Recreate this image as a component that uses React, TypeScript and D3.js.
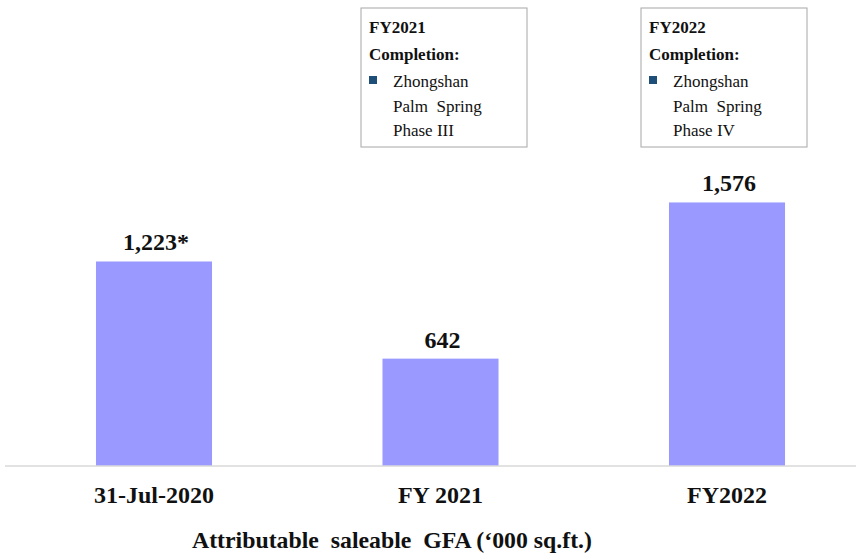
import React from "react";
import * as d3 from "d3";

const categories = ["31-Jul-2020", "FY 2021", "FY2022"];
const values = [1223, 642, 1576];
const valueLabels = ["1,223*", "642", "1,576"];
const boxTitles = ["FY2021", "FY2022"];
const boxLines = [
  ["Zhongshan", "Palm  Spring", "Phase III"],
  ["Zhongshan", "Palm  Spring", "Phase IV"],
];
const axisTitle = "Attributable  saleable  GFA (\u2018000 sq.ft.)";

const W = 856;
const H = 555;
const FONT = "'Liberation Serif', 'Times New Roman', serif";

export default function App() {
  const x = d3
    .scaleBand<string>()
    .domain(categories)
    .range([10.75, 870.25])
    .paddingInner(0.595)
    .paddingOuter(0.2975);
  const y = d3.scaleLinear().domain([0, 1800]).range([466, 165]);
  const boxX = [361, 641];

  return (
    <svg
      width={W}
      height={H}
      style={{ position: "absolute", left: 0, top: 0, background: "#fff" }}
      fontFamily={FONT}
    >
      <rect width={W} height={H} fill="#fff" />
      {categories.map((c, i) => (
        <g key={c}>
          <rect
            x={x(c)!}
            y={y(values[i])}
            width={x.bandwidth()}
            height={y(0) - y(values[i])}
            fill="#9999ff"
          />
          <text
            x={x(c)! + x.bandwidth() / 2 + (i === 0 ? 2 : 2)}
            y={y(values[i]) - 11}
            textAnchor="middle"
            fontWeight="bold"
            fontSize={24}
            fill="#111"
          >
            {valueLabels[i]}
          </text>
          <text
            x={x(c)! + x.bandwidth() / 2}
            y={503}
            textAnchor="middle"
            fontWeight="bold"
            fontSize={24}
            fill="#111"
          >
            {c}
          </text>
        </g>
      ))}
      <line x1={5} x2={856} y1={y(0)} y2={y(0)} stroke="#d9d9d9" strokeWidth={1.5} />
      <text
        x={392}
        y={548}
        textAnchor="middle"
        fontWeight="bold"
        fontSize={23}
        textLength={400}
        lengthAdjust="spacingAndGlyphs"
        fill="#111"
        style={{ whiteSpace: "pre" }}
      >
        {axisTitle}
      </text>
      {boxTitles.map((t, i) => {
        const bx = boxX[i];
        const tx = bx + 8;
        return (
          <g key={t}>
            <rect x={bx} y={8} width={166} height={139} fill="#fff" stroke="#a6a6a6" strokeWidth={1} />
            <text x={tx} y={33} fontWeight="bold" fontSize={17} fill="#111">
              {t}
            </text>
            <text x={tx} y={60} fontWeight="bold" fontSize={17} fill="#111">
              Completion:
            </text>
            <rect x={tx} y={76} width={8} height={8} fill="#1f4e79" />
            {boxLines[i].map((l, j) => (
              <text
                key={j}
                x={tx + 24}
                y={87 + j * 24.5}
                fontSize={17}
                fill="#111"
                style={{ whiteSpace: "pre" }}
              >
                {l}
              </text>
            ))}
          </g>
        );
      })}
    </svg>
  );
}
